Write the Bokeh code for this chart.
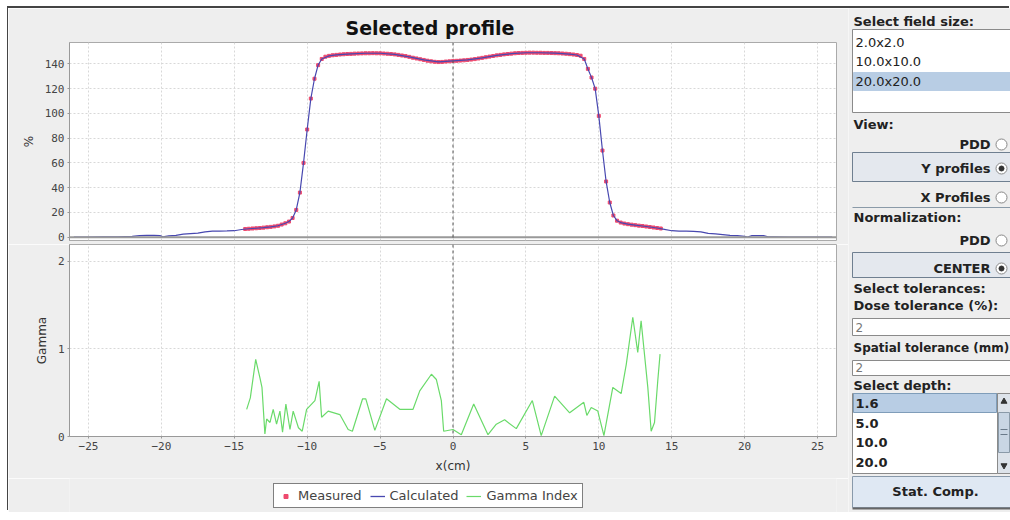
from bokeh.plotting import figure
from bokeh.layouts import row, column
from bokeh.models import Range1d, Span, Legend, LegendItem, FixedTicker
from bokeh.core.properties import value
from bokeh.embed import file_html
from bokeh.resources import INLINE

# ---------------- data ----------------
meas_x = [-14.25, -14.0, -13.75, -13.5, -13.25, -13.0, -12.75, -12.5, -12.25, -12.0,
          -11.75, -11.5, -11.25, -11.0, -10.75, -10.5, -10.25, -10.0, -9.75, -9.5,
          -9.25, -9.0, -8.75, -8.5, -8.25, -8.0, -7.75, -7.5, -7.25, -7.0,
          -6.75, -6.5, -6.25, -6.0, -5.75, -5.5, -5.25, -5.0, -4.75, -4.5,
          -4.25, -4.0, -3.75, -3.5, -3.25, -3.0, -2.75, -2.5, -2.25, -2.0,
          -1.75, -1.5, -1.25, -1.0, -0.75, -0.5, -0.25, 0.0, 0.25, 0.5,
          0.75, 1.0, 1.25, 1.5, 1.75, 2.0, 2.25, 2.5, 2.75, 3.0,
          3.25, 3.5, 3.75, 4.0, 4.25, 4.5, 4.75, 5.0, 5.25, 5.5,
          5.75, 6.0, 6.25, 6.5, 6.75, 7.0, 7.25, 7.5, 7.75, 8.0,
          8.25, 8.5, 8.75, 9.0, 9.25, 9.5, 9.75, 10.0, 10.25, 10.5,
          10.75, 11.0, 11.25, 11.5, 11.75, 12.0, 12.25, 12.5, 12.75, 13.0,
          13.25, 13.5, 13.75, 14.0, 14.25]
meas_y = [6.6, 6.8, 7.0, 7.2, 7.4, 7.7, 8.0, 8.3, 8.7, 9.2,
          10.2, 11.2, 12.6, 15.5, 22.0, 36.0, 60.0, 87.0, 112.0, 128.0,
          139.0, 144.0, 145.8, 146.5, 147.0, 147.3, 147.6, 147.8, 148.0, 148.1,
          148.3, 148.4, 148.5, 148.6, 148.6, 148.7, 148.6, 148.6, 148.4, 148.2,
          148.0, 147.7, 147.3, 146.8, 146.3, 145.7, 145.0, 144.4, 143.8, 143.2,
          142.6, 142.1, 141.7, 141.5, 141.6, 141.9, 142.1, 142.4, 142.5, 142.7,
          142.9, 143.2, 143.5, 143.9, 144.4, 144.9, 145.4, 145.9, 146.4, 146.9,
          147.3, 147.7, 148.0, 148.3, 148.6, 148.8, 148.9, 149.0, 149.1, 149.1,
          149.0, 149.0, 148.9, 148.9, 148.8, 148.7, 148.6, 148.4, 148.2, 147.9,
          147.6, 147.2, 146.6, 144.0, 136.0, 129.0, 120.0, 98.0, 70.0, 45.0,
          28.0, 17.5, 13.3, 11.8, 11.0, 10.5, 10.1, 9.7, 9.3, 9.0,
          8.6, 8.2, 7.8, 7.4, 7.0]

calc_x = [-26.0, -25.0, -24.0, -23.0, -22.0, -21.5, -21.0, -20.5, -20.1, -19.9,
          -19.5, -19.0, -18.5, -18.0, -17.5, -17.0, -16.5, -16.0, -15.5, -15.0,
          -14.5, -14.0, -13.5, -13.0, -12.5, -12.0, -11.5, -11.25, -11.0, -10.75,
          -10.5, -10.25, -10.0, -9.75, -9.5, -9.25, -9.0, -8.5, -8.0, -7.0,
          -6.0, -5.0, -4.0, -3.0, -2.0, -1.0, 0.0, 1.0, 2.0, 3.0,
          4.0, 5.0, 6.0, 7.0, 8.0, 8.5, 9.0, 9.25, 9.5, 9.75,
          10.0, 10.25, 10.5, 10.75, 11.0, 11.25, 11.5, 12.0, 12.5, 13.0,
          13.5, 14.0, 14.5, 15.0, 15.5, 16.0, 16.5, 17.0, 17.5, 18.0,
          18.5, 19.0, 19.5, 20.0, 20.2, 20.5, 21.0, 21.3, 21.6, 22.0,
          23.0, 24.0, 25.0, 26.0]
calc_y = [0.0, 0.0, 0.2, 0.3, 0.6, 1.3, 1.5, 1.4, 1.2, 0.3,
          1.0, 1.5, 2.4, 2.9, 3.2, 4.3, 4.8, 4.9, 5.0, 5.2,
          6.2, 6.8, 7.2, 7.7, 8.3, 9.2, 11.2, 12.6, 15.5, 22.0,
          36.0, 60.0, 87.0, 112.0, 128.0, 139.0, 144.0, 146.5, 147.3, 148.1,
          148.6, 148.6, 147.7, 145.7, 143.2, 141.6, 142.4, 143.2, 144.9, 146.9,
          148.3, 149.0, 149.0, 148.7, 147.9, 147.2, 144.0, 136.0, 129.0, 120.0,
          98.0, 70.0, 45.0, 28.0, 17.5, 13.3, 11.8, 10.5, 9.7, 9.0,
          8.2, 7.4, 6.3, 5.2, 4.9, 4.8, 4.7, 4.3, 3.0, 2.6,
          2.1, 1.5, 1.2, 0.6, 0.1, 1.2, 1.3, 1.2, 0.3, 0.2,
          0.0, 0.0, 0.0, 0.0]

gamma_x = [-14.15, -13.9, -13.53, -13.24, -13.1, -12.9, -12.78, -12.55, -12.33, -12.1,
           -11.87, -11.69, -11.46, -11.18, -10.96, -10.6, -10.34, -10.04, -9.47, -9.18,
           -9.01, -8.56, -7.76, -7.19, -6.9, -6.2, -5.98, -5.36, -4.56, -3.65,
           -2.74, -2.28, -1.48, -1.14, -0.8, -0.64, 0.0, 0.57, 1.42, 2.4,
           2.97, 3.54, 4.34, 5.44, 6.05, 6.97, 8.0, 8.97, 9.18, 9.48,
           9.93, 10.35, 10.96, 11.53, 11.88, 12.33, 12.67, 12.9, 13.36, 13.59,
           13.82, 14.04, 14.2]
gamma_y = [0.31, 0.44, 0.88, 0.67, 0.56, 0.03, 0.2, 0.16, 0.31, 0.14,
           0.29, 0.05, 0.37, 0.08, 0.29, 0.1, 0.06, 0.31, 0.41, 0.63,
           0.22, 0.29, 0.25, 0.08, 0.06, 0.43, 0.43, 0.07, 0.43, 0.31,
           0.31, 0.52, 0.71, 0.65, 0.41, 0.06, 0.08, 0.02, 0.37, 0.02,
           0.14, 0.19, 0.09, 0.41, 0.01, 0.46, 0.27, 0.39, 0.24, 0.33,
           0.29, 0.01, 0.56, 0.49, 0.82, 1.36, 0.96, 1.32, 0.56, 0.06,
           0.16, 0.63, 0.94]

x_ticks = [-25, -20, -15, -10, -5, 0, 5, 10, 15, 20, 25]
profile_ticks = [0, 20, 40, 60, 80, 100, 120, 140]
gamma_ticks = [0, 1, 2]
legend_labels = ["Measured", "Calculated", "Gamma Index"]
field_sizes = ["2.0x2.0", "10.0x10.0", "20.0x20.0"]
depths = ["1.6", "5.0", "10.0", "20.0"]

# ---------------- styles ----------------
BG = "#eeeeee"
MEAS_C = "#ee4a6e"
CALC_C = "#4848b0"
GAM_C = "#6ada6a"
GRID_C = "#d8d8d8"


def style_axes(p):
    for ax in p.axis:
        ax.axis_line_color = "#999999"
        ax.major_tick_line_color = "#999999"
        ax.major_tick_out = 2
        ax.major_tick_in = 0
        ax.minor_tick_line_color = None
        ax.major_label_text_font = "DejaVu Sans Mono"
        ax.major_label_text_font_size = "11px"
        ax.major_label_text_color = "#444444"
        ax.major_label_standoff = 3
        ax.axis_label_text_font = "DejaVu Sans"
        ax.axis_label_text_font_size = "12px"
        ax.axis_label_text_font_style = "normal"
        ax.axis_label_text_color = "#333333"
        ax.axis_label_standoff = 6
    for g in p.grid:
        g.grid_line_color = GRID_C
        g.grid_line_dash = "2 2"
        g.grid_line_width = 1


# ---------------- top: profile ----------------
top = figure(width=840, height=236, x_range=Range1d(-26.3, 26.3), y_range=Range1d(-2.7, 157.3),
             output_backend="svg", toolbar_location=None,
             min_border_left=61, min_border_right=12, min_border_top=34, min_border_bottom=4,
             background_fill_color="white", border_fill_color=BG, outline_line_color="#aaaaaa")
top.title.text = "Selected profile"
top.title.align = "left"
top.title.offset = 276
top.title.text_font = "DejaVu Sans"
top.title.text_font_size = "19px"
top.title.text_font_style = "bold"
top.title.text_color = "#111111"
top.title.standoff = 8
top.xaxis.ticker = FixedTicker(ticks=x_ticks)
top.yaxis.ticker = FixedTicker(ticks=profile_ticks)
top.yaxis.axis_label = "%"
style_axes(top)
top.xaxis.visible = False

top.add_layout(Span(location=0, dimension="width", line_color="#999999", line_width=2))
top.add_layout(Span(location=0, dimension="height", line_color="#555555", line_width=1, line_dash="3 3"))
top.scatter(meas_x, meas_y, marker="square", size=3, color=MEAS_C)
top.line(calc_x, calc_y, color=CALC_C, line_width=1.2)

# ---------------- bottom: gamma ----------------
bot = figure(width=840, height=234, x_range=top.x_range, y_range=Range1d(0, 2.19),
             output_backend="svg", toolbar_location=None,
             min_border_left=61, min_border_right=12, min_border_top=0, min_border_bottom=42,
             background_fill_color="white", border_fill_color=BG, outline_line_color="#aaaaaa")
bot.xaxis.ticker = FixedTicker(ticks=x_ticks)
bot.yaxis.ticker = FixedTicker(ticks=gamma_ticks)
bot.xaxis.axis_label = "x(cm)"
bot.yaxis.axis_label = "Gamma"
style_axes(bot)
bot.add_layout(Span(location=0, dimension="height", line_color="#555555", line_width=1, line_dash="3 3"))
bot.line(gamma_x, gamma_y, color=GAM_C, line_width=1.2)

# ---------------- legend strip ----------------
leg = figure(width=840, height=34, x_range=Range1d(0, 1), y_range=Range1d(0, 1),
             x_axis_location=None, y_axis_location=None, toolbar_location=None,
             output_backend="svg", min_border=0,
             background_fill_color=BG, border_fill_color=BG, outline_line_color=None)
leg.grid.visible = False
nan = float("nan")
m_proxy = leg.scatter([nan], [nan], marker="square", size=4, color=MEAS_C)
c_proxy = leg.line([nan], [nan], color=CALC_C, line_width=1.3)
g_proxy = leg.line([nan], [nan], color=GAM_C, line_width=1.2)
legend = Legend(items=[LegendItem(label=legend_labels[0], renderers=[m_proxy]),
                       LegendItem(label=legend_labels[1], renderers=[c_proxy]),
                       LegendItem(label=legend_labels[2], renderers=[g_proxy])],
                orientation="horizontal", location=(204, 4),
                border_line_color="black", border_line_width=1,
                background_fill_color="white", background_fill_alpha=1.0,
                label_text_font="DejaVu Sans", label_text_font_size="13px",
                label_text_color="#444444", glyph_width=15, glyph_height=10,
                label_standoff=5, spacing=8, padding=4, margin=0)
leg.add_layout(legend, "center")

# ---------------- right control panel ----------------
side = figure(width=162, height=504, x_range=Range1d(848, 1010), y_range=Range1d(512, 8),
              x_axis_location=None, y_axis_location=None, toolbar_location=None,
              output_backend="svg", min_border=0,
              background_fill_color=BG, border_fill_color=BG, outline_line_color=None)
side.grid.visible = False

# boxes
side.quad(left=[852, 852, 852, 852], right=[1012, 1012, 1012, 997],
          top=[29, 318, 360, 393], bottom=[112, 335, 375, 473],
          fill_color="white", line_color="#8a8a8a", line_width=1)
side.quad(left=[853, 853], right=[1012, 996], top=[72, 393], bottom=[90, 412],
          fill_color="#b8cde4", line_color=["#b8cde4", "#7f9db9"], line_width=1)
side.quad(left=[852, 852], right=[1012, 1012], top=[152, 252], bottom=[181, 277],
          fill_color="#e4e8ee", line_color="#6f7f90", line_width=1)
side.quad(left=[997], right=[1010], top=[393], bottom=[473],
          fill_color="#dde3ea", line_color="#8a8a8a", line_width=1)
side.quad(left=[998], right=[1009], top=[412], bottom=[452],
          fill_color="#c9d6e4", line_color="#8a9aa8", line_width=1)
side.quad(left=[852], right=[1012], top=[476], bottom=[507],
          fill_color="#dfe8f3", line_color="#8899aa", line_width=1)
side.segment(x0=[852, 852, 1000, 1000], y0=[207, 508, 429, 434],
             x1=[1012, 1012, 1007, 1007], y1=[207, 508, 429, 434],
             line_color=["#8a9aa8", "#666666", "#6a7a8a", "#6a7a8a"], line_width=[1, 2, 1, 1])
side.scatter(x=[1003.5], y=[401], marker="triangle", size=6, color="#333333")
side.scatter(x=[1003.5], y=[465], marker="inverted_triangle", size=6, color="#333333")

bold_txt = dict(text_font=value("DejaVu Sans"), text_font_style="bold",
                text_color="#222222", text_baseline="middle")
side.text(x=[853] * 6, y=[21, 124, 217, 288, 305, 385],
          text=["Select field size:", "View:", "Normalization:", "Select tolerances:",
                "Dose tolerance (%):", "Select depth:"],
          text_align="left", text_font_size="13px", **bold_txt)
side.text(x=[853], y=[347], text=["Spatial tolerance (mm)"],
          text_align="left", text_font_size="12px", **bold_txt)
side.text(x=[990] * 5, y=[144, 168, 197, 240, 268],
          text=["PDD", "Y profiles", "X Profiles", "PDD", "CENTER"],
          text_align="right", text_font_size="13px", **bold_txt)
side.text(x=[935], y=[491], text=["Stat. Comp."], text_align="center",
          text_font_size="13px", **bold_txt)
side.text(x=[855] * len(field_sizes), y=[42, 61, 81], text=field_sizes,
          text_font=value("DejaVu Sans"), text_font_size="13px", text_color="#222222",
          text_baseline="middle", text_align="left")
side.text(x=[855] * len(depths), y=[403, 423, 442, 462], text=depths,
          text_font=value("DejaVu Sans"), text_font_style="bold", text_font_size="13px",
          text_color="#222222", text_baseline="middle", text_align="left")
side.text(x=[855, 855], y=[327, 367], text=["2", "2"],
          text_font=value("DejaVu Sans"), text_font_size="12px", text_color="#777777",
          text_baseline="middle", text_align="left")
# radio buttons
side.scatter(x=[1001] * 5, y=[144, 168, 197, 240, 268], marker="circle", size=11,
             fill_color="white", line_color="#888888")
side.scatter(x=[1001, 1001], y=[168, 268], marker="circle", size=5,
             fill_color="#333333", line_color="#333333")

layout = row(column(top, bot, leg), side,
             styles={"margin-left": "8px", "margin-top": "8px",
                     "box-shadow": "-1px -2px 0 0 #444444"})

open("out.html", "w").write(file_html(layout, INLINE))
